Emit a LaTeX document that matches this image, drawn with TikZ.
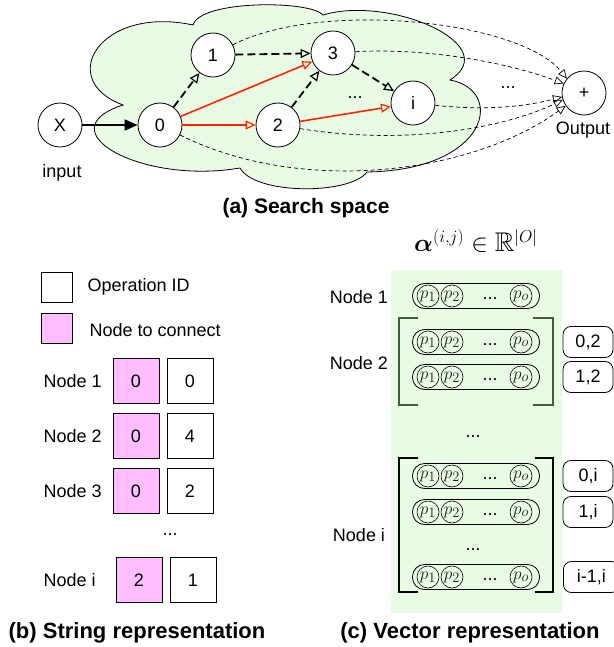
\documentclass[tikz,border=0pt]{standalone}
\usepackage{amsmath,amssymb}
\usepackage{fontspec}
\setmainfont{Liberation Sans}
\usetikzlibrary{arrows.meta,positioning}
\definecolor{cloudgreen}{RGB}{233,251,229}
\definecolor{connpink}{RGB}{255,190,255}
\definecolor{edgered}{RGB}{255,38,0}
\definecolor{brackgreen}{RGB}{64,92,64}
\tikzset{
  opnode/.style={draw,circle,fill=white,minimum size=44pt,inner sep=0pt,line width=0.8pt},
  blackedge/.style={line width=1.8pt,dash pattern=on 8pt off 4pt,
    -{Triangle[open,length=10pt,width=9pt,line width=1.2pt]}},
  rededge/.style={edgered,line width=1.6pt,-{Triangle[open,length=10pt,width=9pt,line width=1.2pt]}},
  outedge/.style={line width=0.7pt,dash pattern=on 4pt off 3pt,-{Triangle[open,length=9pt,width=8pt]}},
  cellbox/.style={draw,minimum width=46pt,minimum height=45pt,inner sep=0pt,line width=0.8pt},
  vecrow/.style={draw,rounded corners=12pt,minimum width=127pt,minimum height=25pt,line width=0.8pt},
  pcircle/.style={draw,circle,minimum size=22pt,inner sep=0pt,line width=0.6pt,
    text=black!88,font=\fontsize{19}{19}\selectfont},
  pairbox/.style={draw,rounded corners=8pt,minimum width=50pt,minimum height=31pt,inner sep=0pt,line width=0.8pt},
  figcaption/.style={font=\fontsize{22}{26}\selectfont\bfseries}
}
\begin{document}
\begin{tikzpicture}[x=1pt,y=-1pt,font=\fontsize{18}{21}\selectfont]
  \useasboundingbox (0,0) rectangle (613,647);
  % (a) search space
  \draw[fill=cloudgreen,line width=0.8pt] (123,105) .. controls (55,80) and (100,5) .. (193,25)
    .. controls (200,0) and (310,0) .. (323,15)
    .. controls (390,-5) and (505,45) .. (450,80)
    .. controls (505,90) and (490,170) .. (367,172)
    .. controls (350,195) and (255,195) .. (240,168)
    .. controls (140,185) and (45,130) .. (123,105) -- cycle;
  \node[opnode] (x) at (60,125) {X};
  \node (inlabel) at (62,173) {input};
  \node[opnode] (n0) at (160,125) {0};
  \node[opnode] (n1) at (213,55) {1};
  \node[opnode] (n2) at (278,125) {2};
  \node[opnode] (n3) at (333,53) {3};
  \node[opnode] (ni) at (413,103) {i};
  \node[opnode] (out) at (584,93) {+};
  \node (outlabel) at (583,130) {Output};
  \node (gdots) at (355,98) {...};
  \node (odots) at (508,88) {...};
  \draw[line width=1.8pt,-{Triangle[length=13pt,width=11pt]}] (x) -- (n0);
  \draw[blackedge] (n0) -- (n1);
  \draw[blackedge] (n1) -- (n3);
  \draw[blackedge] (n2) -- (n3);
  \draw[blackedge] (n3) -- (ni);
  \draw[rededge] (n0) -- (n3);
  \draw[rededge] (n0) -- (n2);
  \draw[rededge] (n2) -- (ni);
  \draw[outedge] (n1) .. controls (320,0) and (520,20) .. (out.140);
  \draw[outedge] (n3) .. controls (420,48) and (500,60) .. (out.155);
  \draw[outedge] (ni) .. controls (480,110) and (520,108) .. (out.190);
  \draw[outedge] (n2) .. controls (400,145) and (500,130) .. (out.198);
  \draw[outedge] (n0) .. controls (300,195) and (470,175) .. (out.215);
  \node[figcaption,font=\fontsize{21}{25}\selectfont\bfseries] (capa) at (306,208) {(a) Search space};
  % (b) string representation
  \node[draw,minimum width=31pt,minimum height=30pt,line width=0.8pt] (legop) at (57,287) {};
  \node[anchor=west] (legoptext) at (84,287) {Operation ID};
  \node[draw,fill=connpink,minimum width=31pt,minimum height=30pt,line width=0.8pt] (legpk) at (57,328) {};
  \node[anchor=west] (legpktext) at (86,330) {Node to connect};
  \foreach \k/\y/\a/\b/\dx in {1/381/0/0/0,2/436/0/4/0,3/491/0/2/0,i/580/2/1/3}{
    \node[anchor=west] (rowlab\k) at (40,\y) {Node \k};
    \node[cellbox,fill=connpink] (pk\k) at (136+\dx,\y) {\a};
    \node[cellbox] (op\k) at (190+\dx,\y) {\b};
  }
  \node (sdots) at (170,535) {...};
  \node[figcaption] (capb) at (137,633) {(b) String representation};
  % (c) vector representation
  \fill[cloudgreen] (391,270) rectangle (562,613);
  \node[font=\fontsize{27}{30}\selectfont] (alphatitle) at (476,241) {$\boldsymbol{\alpha}^{(i,j)} \in \mathbb{R}^{|O|}$};
  \node (vlab1) at (359,297) {Node 1};
  \node (vlab2) at (359,363) {Node 2};
  \node (vlabi) at (359,535) {Node i};
  \foreach \k/\y in {1/296,2a/342,2b/377,ia/476,ib/512,ic/577}{
    \node[vecrow] (row\k) at (476,\y) {};
    \node[pcircle] (row\k p1) at ([xshift=-48pt]row\k.center) {$p_1$};
    \node[pcircle] (row\k p2) at ([xshift=-24pt]row\k.center) {$p_2$};
    \node (row\k d) at ([xshift=14pt,yshift=-3pt]row\k.center) {...};
    \node[pcircle] (row\k po) at ([xshift=45pt]row\k.center) {$p_o$};
  }
  \node (vdots) at (473,437) {...};
  \node (idots) at (473,550) {...};
  \draw[brackgreen,line width=2pt] (418,318) -- (399,318) -- (399,405) -- (418,405);
  \draw[brackgreen,line width=2pt] (533,318) -- (553,318) -- (553,405) -- (533,405);
  \draw[line width=2pt] (418,458) -- (399,458) -- (399,592) -- (418,592);
  \draw[line width=2pt] (535,458) -- (553,458) -- (553,592) -- (535,592);
  \foreach \k/\y/\t in {02/342/{0,2},12/377/{1,2},0i/476/{0,i},1i/512/{1,i}}
    \node[pairbox] (pair\k) at (588,\y) {\t};
  \node[pairbox,minimum width=56pt,anchor=west] (pairlast) at (563,577) {i-1,i};
  \node[figcaption] (capc) at (470,633) {(c) Vector representation};
\end{tikzpicture}
\end{document}
